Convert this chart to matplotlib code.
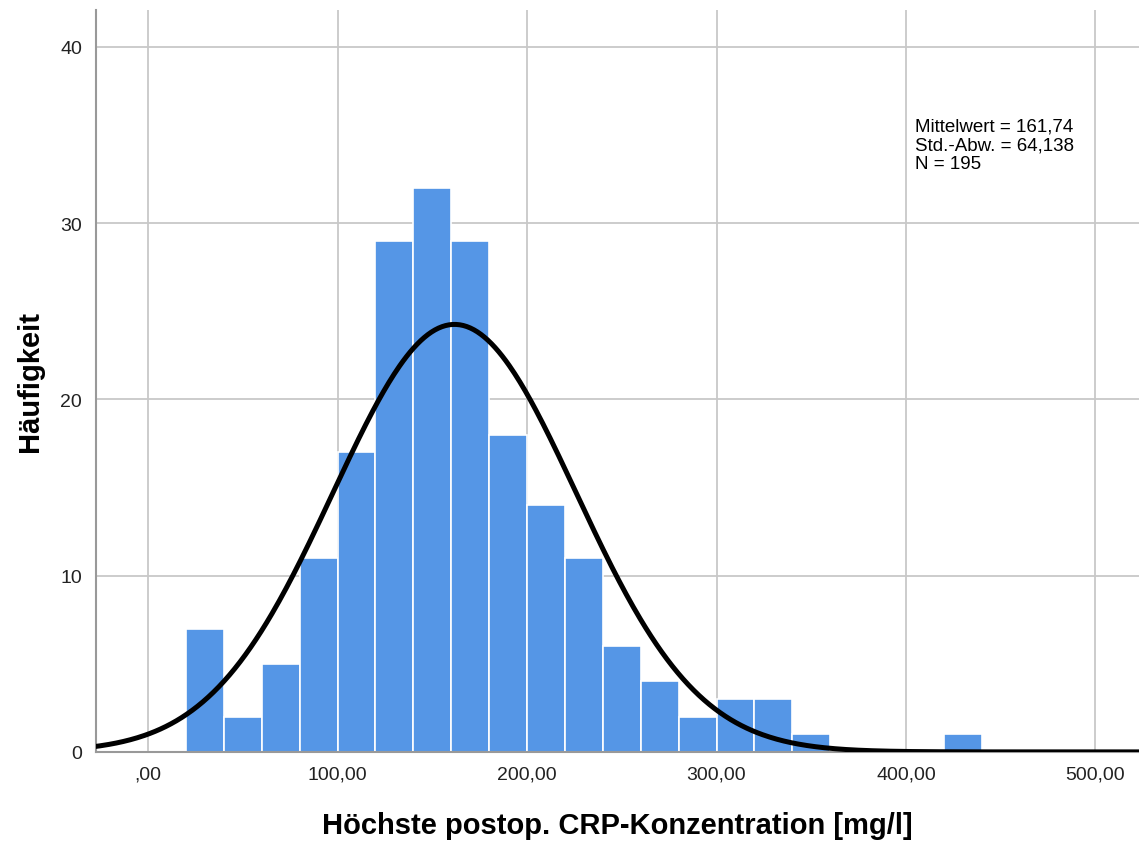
import numpy as np
import matplotlib
matplotlib.use("Agg")
from matplotlib import pyplot as plt

plt.rcParams['font.family'] = ['Liberation Sans', 'DejaVu Sans']

# bin edges (width 20) and counts
bin_left = [20, 40, 60, 80, 100, 120, 140, 160, 180, 200, 220, 240, 260, 280, 300, 320, 340, 420]
counts = [7, 2, 5, 11, 17, 29, 32, 29, 18, 14, 11, 6, 4, 2, 3, 3, 1, 1]
bin_width = 20
mean = 161.74
std = 64.138
n = 195
x_ticks = [0, 100, 200, 300, 400, 500]
x_tick_labels = [',00', '100,00', '200,00', '300,00', '400,00', '500,00']
y_ticks = [0, 10, 20, 30, 40]

fig = plt.figure(figsize=(11.39, 8.45), dpi=100)
ax = fig.add_axes([0.0843, 0.109, 0.9157, 0.878])

ax.bar(bin_left, counts, width=bin_width, align='edge', color='#5596e6',
       edgecolor='white', linewidth=1.2, zorder=2)

xs = np.linspace(-30, 530, 600)
ys = n * bin_width / (std * np.sqrt(2 * np.pi)) * np.exp(-0.5 * ((xs - mean) / std) ** 2)
ax.plot(xs, ys, color='black', linewidth=3.6, zorder=3)

ax.set_xlim(-27.5, 523)
ax.set_ylim(0, 42.1)
ax.set_xticks(x_ticks)
ax.set_xticklabels(x_tick_labels)
ax.set_yticks(y_ticks)
ax.grid(True, color='#c8c8c8', linewidth=1.3, zorder=0)
ax.set_axisbelow(True)
ax.tick_params(length=0, labelsize=14, colors='#222222', pad=10)

for s in ['top', 'right']:
    ax.spines[s].set_visible(False)
for s in ['left', 'bottom']:
    ax.spines[s].set_color('#999999')
    ax.spines[s].set_linewidth(1.5)

ax.set_xlabel('Höchste postop. CRP-Konzentration [mg/l]', fontsize=21,
              fontweight='bold', labelpad=20)
ax.set_ylabel('Häufigkeit', fontsize=21, fontweight='bold', labelpad=12)

ax.text(405, 36.0, 'Mittelwert = 161,74\nStd.-Abw. = 64,138\nN = 195',
        fontsize=13.5, va='top', ha='left', linespacing=1.15)

plt.savefig('out.png', dpi=100)
